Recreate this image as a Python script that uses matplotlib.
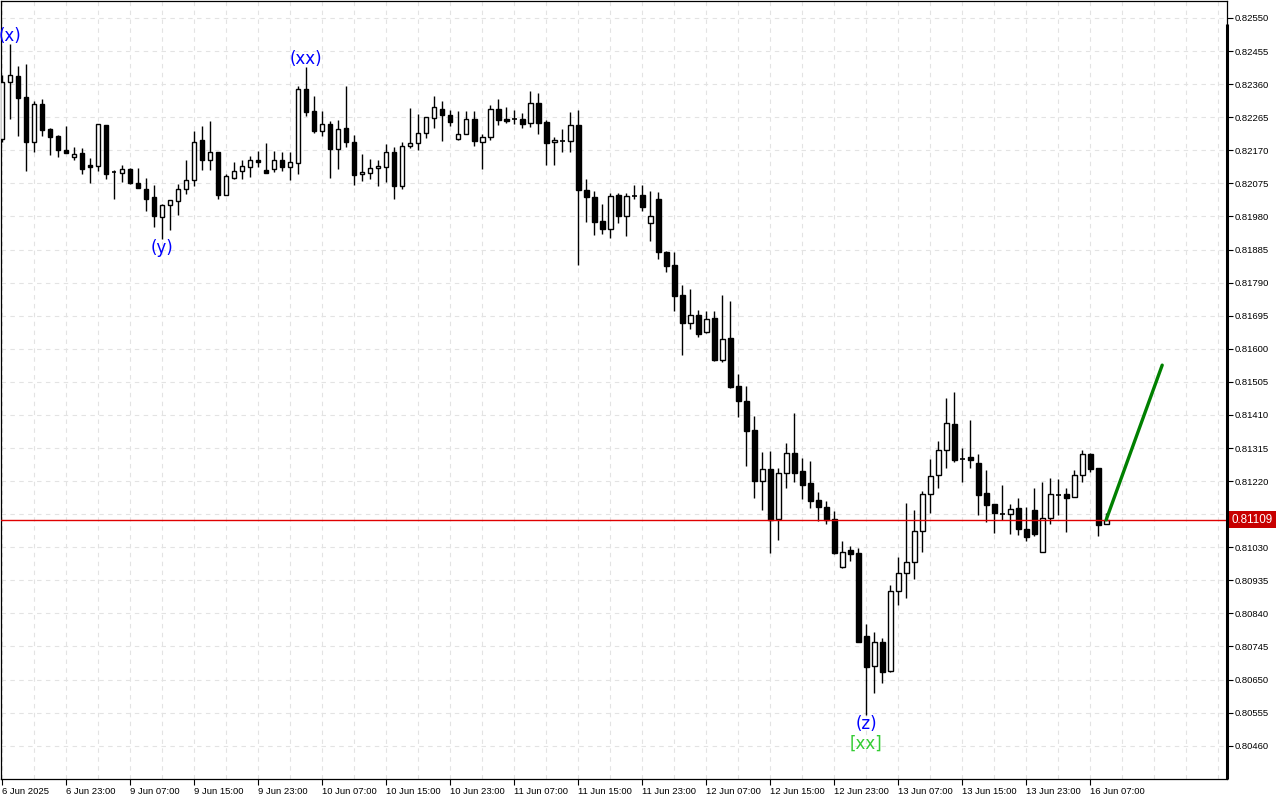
import numpy as np
import matplotlib
matplotlib.use("Agg")
import matplotlib.pyplot as plt
from matplotlib.patches import Rectangle
from matplotlib.transforms import blended_transform_factory

# hourly candles, prices in points (1e-5)
opens = [82203, 82367, 82383, 82323, 82195, 82303, 82232, 82211, 82171, 82150,
         82162, 82128, 82126, 82243, 82108, 82106, 82116, 82076, 82059, 82036,
         81979, 82012, 82025, 82058, 82084, 82200, 82143, 82165, 82043, 82091,
         82111, 82123, 82142, 82113, 82117, 82142, 82123, 82134, 82346, 82284,
         82225, 82245, 82173, 82233, 82194, 82101, 82104, 82118, 82123, 82164,
         82068, 82182, 82190, 82219, 82262, 82289, 82271, 82202, 82216, 82259,
         82194, 82207, 82288, 82260, 82259, 82260, 82248, 82305, 82251, 82193,
         82197, 82196, 82242, 82056, 82035, 81966, 81943, 82041, 81981, 82039,
         82041, 81960, 82030, 81877, 81841, 81754, 81673, 81696, 81647, 81688,
         81567, 81630, 81492, 81450, 81367, 81221, 81255, 81112, 81242, 81300,
         81248, 81215, 81166, 81145, 81111, 80972, 81022, 81013, 80775, 80689,
         80757, 80674, 80904, 80955, 80989, 81076, 81182, 81237, 81308, 81383,
         81283, 81288, 81271, 81185, 81153, 81126, 81125, 81143, 81082, 81137,
         81017, 81113, 81179, 81183, 81173, 81238, 81297, 81257, 81096]
highs = [82386, 82475, 82412, 82417, 82312, 82317, 82234, 82215, 82240, 82180,
         82177, 82147, 82246, 82243, 82113, 82128, 82119, 82119, 82090, 82071,
         82017, 82027, 82073, 82142, 82225, 82240, 82255, 82165, 82103, 82136,
         82142, 82155, 82168, 82190, 82167, 82166, 82165, 82355, 82409, 82326,
         82283, 82254, 82257, 82355, 82214, 82159, 82145, 82142, 82188, 82179,
         82194, 82291, 82274, 82266, 82326, 82312, 82286, 82283, 82283, 82284,
         82217, 82300, 82317, 82294, 82286, 82278, 82340, 82334, 82258, 82207,
         82230, 82280, 82285, 82088, 82053, 82016, 82047, 82047, 82047, 82070,
         82070, 82053, 82049, 81880, 81878, 81783, 81772, 81711, 81709, 81708,
         81754, 81737, 81527, 81492, 81407, 81303, 81306, 81257, 81329, 81415,
         81286, 81278, 81189, 81163, 81134, 81048, 81034, 81027, 80810, 80786,
         80770, 80922, 81002, 81156, 81137, 81192, 81283, 81334, 81459, 81475,
         81314, 81395, 81298, 81252, 81154, 81209, 81153, 81171, 81145, 81200,
         81217, 81228, 81227, 81199, 81252, 81309, 81301, 81259, 81128]
lows = [82194, 82259, 82212, 82111, 82164, 82212, 82157, 82152, 82161, 82142,
        82102, 82077, 82111, 82087, 82031, 82079, 82073, 82061, 81997, 81951,
        81916, 81941, 81984, 82045, 82068, 82113, 82113, 82030, 82043, 82089,
        82089, 82094, 82123, 82104, 82109, 82111, 82085, 82103, 82269, 82221,
        82212, 82091, 82115, 82180, 82071, 82083, 82089, 82068, 82080, 82031,
        82060, 82176, 82171, 82206, 82234, 82198, 82241, 82199, 82216, 82183,
        82117, 82200, 82243, 82249, 82245, 82235, 82238, 82216, 82129, 82129,
        82166, 82164, 81840, 81965, 81928, 81931, 81919, 81962, 81925, 82029,
        81997, 81910, 81859, 81821, 81709, 81582, 81658, 81633, 81644, 81566,
        81563, 81487, 81405, 81264, 81172, 81137, 81014, 81051, 81201, 81218,
        81169, 81144, 81106, 81098, 81011, 80970, 80991, 80757, 80548, 80611,
        80641, 80672, 80865, 80885, 80940, 81017, 81129, 81201, 81259, 81275,
        81218, 81259, 81124, 81103, 81072, 81108, 81069, 81065, 81049, 81063,
        81017, 81098, 81123, 81075, 81173, 81218, 81246, 81063, 81096]
closes = [82366, 82386, 82321, 82195, 82302, 82229, 82209, 82172, 82163, 82159,
          82117, 82123, 82245, 82102, 82108, 82116, 82077, 82061, 82031, 81982,
          82013, 82026, 82058, 82085, 82193, 82143, 82165, 82043, 82096, 82111,
          82125, 82142, 82136, 82106, 82142, 82123, 82136, 82346, 82281, 82225,
          82246, 82173, 82230, 82195, 82100, 82107, 82118, 82124, 82164, 82068,
          82182, 82190, 82219, 82265, 82294, 82271, 82250, 82217, 82259, 82198,
          82207, 82288, 82257, 82255, 82259, 82245, 82305, 82248, 82192, 82200,
          82197, 82242, 82055, 82035, 81965, 81943, 82038, 81981, 82038, 82039,
          82008, 81981, 81879, 81839, 81752, 81673, 81696, 81643, 81685, 81569,
          81627, 81491, 81451, 81365, 81221, 81254, 81108, 81242, 81300, 81244,
          81210, 81164, 81147, 81109, 81014, 81016, 81012, 80759, 80685, 80757,
          80673, 80904, 80955, 80989, 81076, 81182, 81234, 81308, 81386, 81281,
          81283, 81280, 81181, 81152, 81129, 81126, 81139, 81082, 81060, 81069,
          81114, 81182, 81179, 81172, 81237, 81297, 81256, 81095, 81109]

time_labels = ["6 Jun 2025", "6 Jun 23:00", "9 Jun 07:00", "9 Jun 15:00", "9 Jun 23:00",
               "10 Jun 07:00", "10 Jun 15:00", "10 Jun 23:00", "11 Jun 07:00", "11 Jun 15:00",
               "11 Jun 23:00", "12 Jun 07:00", "12 Jun 15:00", "12 Jun 23:00", "13 Jun 07:00",
               "13 Jun 15:00", "13 Jun 23:00", "16 Jun 07:00"]

y_ticks = [0.82550 - 0.00095 * k for k in range(23)]
bid = 0.81109

# wave labels: (bar, text, anchor)
wave_marks = [(1, "(x)", "high"), (20, "(y)", "low"), (38, "(xx)", "high"), (108, "(z)", "low")]
projection_bars = [138, 145]
projection_prices = [0.81109, 0.81553]

o = np.array(opens) / 1e5
h = np.array(highs) / 1e5
l = np.array(lows) / 1e5
c = np.array(closes) / 1e5
n = len(o)
xs = np.arange(n)

plt.rcParams['font.family'] = ['Liberation Sans', 'DejaVu Sans']

fig = plt.figure(figsize=(12.8, 8), dpi=100)
ax = fig.add_axes([0.0004, 0.02625, 0.9582, 0.9725])
ax.set_xlim(-0.19, 153.1)
ax.set_ylim(0.803644, 0.825988)

# grid
for gx in range(0, 154, 4):
    ax.axvline(gx, color='#e3e3e3', lw=0.8, ls=(0, (4, 4)), zorder=0)
for gy in y_ticks:
    ax.axhline(gy, color='#e3e3e3', lw=0.8, ls=(0, (4, 4)), zorder=0)

# candles
w = 0.6
for i in range(n):
    ax.vlines(xs[i], l[i], h[i], color='black', lw=1.0, zorder=2)
    bot = min(o[i], c[i])
    ht = abs(c[i] - o[i])
    face = 'white' if c[i] > o[i] else 'black'
    if ht < 0.000012:
        ax.hlines(o[i], xs[i] - w / 2, xs[i] + w / 2, color='black', lw=1.2, zorder=3)
    else:
        ax.add_patch(Rectangle((xs[i] - w / 2, bot), w, ht, facecolor=face,
                               edgecolor='black', lw=1.0, zorder=3))

# current price line
ax.axhline(bid, color='#e00000', lw=1.0, zorder=4)

# projection
ax.plot(projection_bars, projection_prices, color='#008000', lw=2.4, zorder=5,
        solid_capstyle='round')

# wave labels
for bar, txt, side in wave_marks:
    if side == "high":
        ax.annotate(txt, (bar, h[bar]), xytext=(0, -1), textcoords='offset pixels',
                    ha='center', va='bottom', color='#0000ff', fontsize=12,
                    family='DejaVu Sans', zorder=6, annotation_clip=False)
    else:
        ax.annotate(txt, (bar, l[bar]), xytext=(0, 0), textcoords='offset pixels',
                    ha='center', va='top', color='#0000ff', fontsize=12,
                    family='DejaVu Sans', zorder=6)
ax.annotate("[xx]", (108, l[108]), xytext=(0, -20), textcoords='offset pixels',
            ha='center', va='top', color='#33cc33', fontsize=12,
            family='DejaVu Sans', zorder=6)

# axes styling
for s in ['top', 'left', 'bottom', 'right']:
    ax.spines[s].set_color('black')
    ax.spines[s].set_linewidth(0.9)
ax.plot([1, 1], [0, 0.97], transform=ax.transAxes, color='black', lw=2.2,
        clip_on=False, zorder=7, solid_capstyle='butt')

ax.yaxis.tick_right()
ax.set_yticks(y_ticks)
ax.set_yticklabels(["%.5f" % v for v in y_ticks])
ax.tick_params(axis='y', direction='out', length=4, width=0.8, pad=1.5,
               labelsize=6.8, colors='black')

ax.set_xticks(range(0, n, 8))
ax.set_xticklabels(time_labels, ha='left')
ax.tick_params(axis='x', direction='out', length=4, width=0.8, pad=2,
               labelsize=6.8, colors='black')

# bid label
trans = blended_transform_factory(ax.transAxes, ax.transData)
ax.text(1.004, bid, "%.5f" % bid, transform=trans, ha='left', va='center',
        color='white', fontsize=8.4, zorder=8,
        bbox=dict(boxstyle='square,pad=0.22', facecolor='#c80000', edgecolor='none'))

fig.savefig("out.png", dpi=100, facecolor='white')
